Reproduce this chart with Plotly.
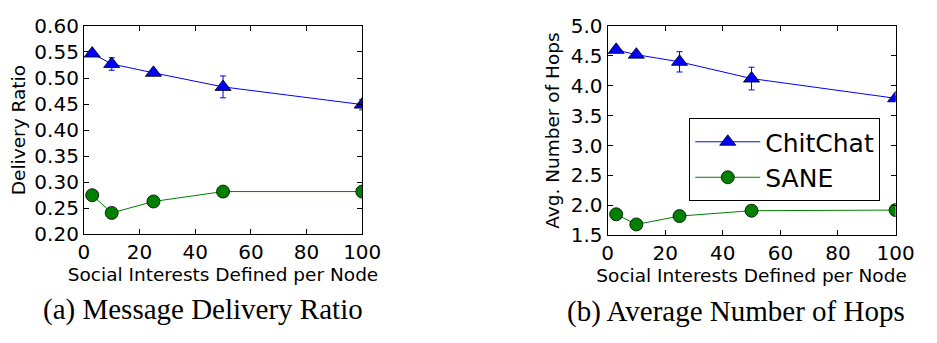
import plotly.graph_objects as go

x_vals = [3, 10, 25, 50, 100]

# Panel (a) Delivery ratio
chitchat_ratio = [0.547, 0.527, 0.510, 0.483, 0.449]
chitchat_ratio_err = [0.004, 0.012, 0.004, 0.021, 0.010]
sane_ratio = [0.275, 0.241, 0.263, 0.282, 0.282]

# Panel (b) Avg. hops
chitchat_hops = [4.60, 4.52, 4.40, 4.12, 3.79]
chitchat_hops_err = [0.03, 0.03, 0.17, 0.19, 0.03]
sane_hops = [1.85, 1.68, 1.82, 1.91, 1.92]

ratio_ticks = [0.20, 0.25, 0.30, 0.35, 0.40, 0.45, 0.50, 0.55, 0.60]
hops_ticks = [1.5, 2.0, 2.5, 3.0, 3.5, 4.0, 4.5, 5.0]
x_ticks = [0, 20, 40, 60, 80, 100]

W, H = 937, 343
def px(v): return v / W
def py(v): return 1 - v / H

blue = "#0000ff"
green = "#008000"

fig = go.Figure()

tri = dict(symbol="triangle-up", size=14, color=blue, line=dict(color="black", width=0.8))
circ = dict(symbol="circle", size=13, color=green, line=dict(color="black", width=0.8))

fig.add_trace(go.Scatter(x=x_vals, y=chitchat_ratio, mode="lines+markers", name="ChitChat",
    line=dict(color=blue, width=1), marker=tri,
    error_y=dict(type="data", array=chitchat_ratio_err, color=blue, thickness=1, width=3),
    xaxis="x", yaxis="y", showlegend=False))
fig.add_trace(go.Scatter(x=x_vals, y=sane_ratio, mode="lines+markers", name="SANE",
    line=dict(color=green, width=1), marker=circ,
    xaxis="x", yaxis="y", showlegend=False))

fig.add_trace(go.Scatter(x=x_vals, y=chitchat_hops, mode="lines+markers", name="ChitChat",
    line=dict(color=blue, width=1), marker=tri,
    error_y=dict(type="data", array=chitchat_hops_err, color=blue, thickness=1, width=3),
    xaxis="x2", yaxis="y2", showlegend=True))
fig.add_trace(go.Scatter(x=x_vals, y=sane_hops, mode="lines+markers", name="SANE",
    line=dict(color=green, width=1), marker=circ,
    xaxis="x2", yaxis="y2", showlegend=True))

tickfont = dict(family="DejaVu Sans", size=20, color="black")
titlefont = dict(family="DejaVu Sans", size=18.5, color="black")
common = dict(showline=True, linecolor="black", linewidth=1, mirror="ticks", ticks="inside",
              ticklen=5, tickcolor="black", showgrid=False, zeroline=False, tickfont=tickfont)

fig.update_layout(
    width=W, height=H, margin=dict(l=0, r=0, t=0, b=0),
    plot_bgcolor="white", paper_bgcolor="white",
    xaxis=dict(domain=[px(80), px(366)], range=[0, 100], tickvals=x_ticks, anchor="y",
               title=dict(text="Social Interests Defined per Node", font=titlefont, standoff=4), **common),
    yaxis=dict(domain=[py(239), py(15)], range=[0.20, 0.60], tickvals=ratio_ticks,
               ticktext=[f"{v:.2f}" for v in ratio_ticks], anchor="x",
               title=dict(text="Delivery Ratio", font=titlefont, standoff=3), **common),
    xaxis2=dict(domain=[px(618), px(914)], range=[0, 100], tickvals=x_ticks, anchor="y2",
                title=dict(text="Social Interests Defined per Node", font=titlefont, standoff=4), **common),
    yaxis2=dict(domain=[py(240), py(15)], range=[1.5, 5.0], tickvals=hops_ticks,
                ticktext=[f"{v:.1f}" for v in hops_ticks], anchor="x2",
                title=dict(text="Avg. Number of Hops", font=titlefont, standoff=6), **common),
    legend=dict(x=px(702), y=py(114), xanchor="left", yanchor="top",
                bordercolor="black", borderwidth=1, bgcolor="white",
                font=dict(family="DejaVu Sans", size=25, color="black"),
                itemwidth=65, tracegroupgap=0),
    annotations=[
        dict(text="(a) Message Delivery Ratio", x=px(202), y=py(320), xref="paper", yref="paper",
             xanchor="center", yanchor="middle",
             showarrow=False, font=dict(family="Liberation Serif", size=29, color="black")),
        dict(text="(b) Average Number of Hops", x=px(750), y=py(322), xref="paper", yref="paper",
             xanchor="center", yanchor="middle",
             showarrow=False, font=dict(family="Liberation Serif", size=29, color="black")),
    ],
)

fig.write_html("out.html")
